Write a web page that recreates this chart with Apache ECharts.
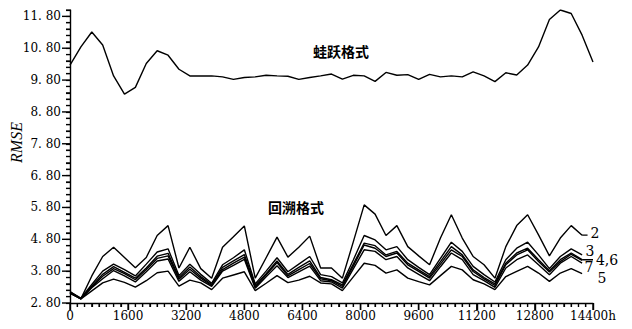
<!DOCTYPE html>
<html>
<head>
<meta charset="utf-8">
<script src="https://cdn.jsdelivr.net/npm/echarts@6/dist/echarts.min.js"></script>
<style>
  html, body { margin: 0; padding: 0; background: #fff; }
  #chart { width: 632px; height: 329px; }
</style>
</head>
<body>
<div id="chart"></div>
<script>
// sampling every 300 h from 0 to 14400 h
var hours = [];
for (var k = 0; k <= 48; k++) hours.push(k * 300);

// 蛙跃格式
var leapfrog = [10.27, 10.84, 11.31, 10.90, 9.93, 9.36, 9.57, 10.32, 10.72, 10.58, 10.14, 9.93,
  9.93, 9.93, 9.90, 9.82, 9.88, 9.90, 9.95, 9.93, 9.92, 9.82, 9.88, 9.93, 9.99, 9.83, 9.95, 9.93,
  9.76, 10.04, 9.95, 9.97, 9.82, 9.98, 9.90, 9.93, 9.90, 10.06, 9.93, 9.75, 10.03, 9.96, 10.27,
  10.84, 11.70, 12.0, 11.89, 11.21, 10.37];

// 回溯格式, curves 2..7
var back2 = [3.16, 2.93, 3.65, 4.26, 4.55, 4.23, 3.91, 4.23, 4.92, 5.23, 3.90, 4.55, 3.88, 3.58,
  4.55, 4.88, 5.22, 3.58, 4.22, 4.87, 4.24, 4.55, 4.90, 3.90, 3.90, 3.58, 4.72, 5.88, 5.59, 4.92,
  5.23, 4.57, 4.28, 4.00, 4.84, 5.57, 4.84, 4.26, 4.00, 3.58, 4.57, 5.23, 5.57, 4.94, 4.28, 4.84,
  5.23, 4.93];
var back3 = [3.15, 2.95, 3.38, 3.80, 4.02, 3.85, 3.65, 4.02, 4.40, 4.50, 3.66, 4.02, 3.70, 3.42,
  4.00, 4.22, 4.47, 3.40, 3.80, 4.22, 3.78, 4.02, 4.26, 3.69, 3.63, 3.43, 4.15, 4.92, 4.78, 4.47,
  4.57, 4.16, 3.92, 3.69, 4.20, 4.71, 4.42, 3.95, 3.69, 3.46, 4.16, 4.52, 4.71, 4.31, 3.88, 4.26,
  4.50, 4.31];
var back4 = [3.13, 2.94, 3.33, 3.70, 3.94, 3.76, 3.58, 3.90, 4.27, 4.36, 3.60, 3.93, 3.63, 3.38,
  3.92, 4.12, 4.32, 3.35, 3.72, 4.12, 3.70, 3.92, 4.12, 3.60, 3.53, 3.37, 4.02, 4.68, 4.60, 4.31,
  4.42, 4.05, 3.84, 3.63, 4.10, 4.57, 4.31, 3.84, 3.60, 3.40, 4.05, 4.37, 4.52, 4.16, 3.81, 4.16,
  4.37, 4.16];
var back6 = [3.12, 2.94, 3.30, 3.64, 3.88, 3.72, 3.53, 3.85, 4.20, 4.28, 3.55, 3.86, 3.58, 3.35,
  3.85, 4.05, 4.24, 3.30, 3.68, 4.07, 3.65, 3.85, 4.04, 3.56, 3.50, 3.32, 3.96, 4.62, 4.52, 4.26,
  4.37, 4.00, 3.79, 3.58, 4.02, 4.47, 4.26, 3.79, 3.56, 3.35, 4.00, 4.31, 4.47, 4.10, 3.77, 4.10,
  4.33, 4.14];
var back7 = [3.12, 2.93, 3.28, 3.56, 3.82, 3.65, 3.46, 3.78, 4.12, 4.18, 3.48, 3.78, 3.52, 3.32,
  3.80, 3.98, 4.17, 3.26, 3.62, 3.97, 3.60, 3.78, 3.96, 3.50, 3.46, 3.27, 3.87, 4.47, 4.42, 4.16,
  4.26, 3.90, 3.70, 3.50, 3.94, 4.37, 4.16, 3.69, 3.50, 3.29, 3.90, 4.16, 4.31, 4.00, 3.69, 4.05,
  4.26, 4.05];
var back5 = [3.10, 2.93, 3.18, 3.43, 3.55, 3.45, 3.30, 3.50, 3.75, 3.80, 3.33, 3.52, 3.43, 3.22,
  3.58, 3.68, 3.78, 3.19, 3.42, 3.66, 3.44, 3.52, 3.64, 3.43, 3.40, 3.19, 3.62, 4.05, 3.98, 3.74,
  3.84, 3.58, 3.47, 3.37, 3.66, 3.95, 3.84, 3.53, 3.40, 3.22, 3.63, 3.79, 3.95, 3.74, 3.48, 3.74,
  3.88, 3.72];

// leader strokes: end hour of each short dash after the curve ends
var leaderEnd2 = 14250;
var leaderEnd4 = 14400;

// axis tick positions: y every 0.2 (major every 1.0 from 2.8), x every 200 h (major every 1600 h)
var yMajorTicks = [], yMinorTicks = [], xMajorTicks = [], xMinorTicks = [];
for (var t = 0; t <= 46; t++) {
  var yv = Math.round((2.8 + t * 0.2) * 10) / 10;
  if (t % 5 === 0 && t < 46) yMajorTicks.push([0, yv]); else yMinorTicks.push([0, yv]);
}
for (var s = 0; s <= 72; s++) {
  if (s % 8 === 0) xMajorTicks.push([s * 200, 2.8]); else xMinorTicks.push([s * 200, 2.8]);
}

var serif = 'DejaVu Serif';
var ink = '#000';

function pairs(arr) {
  return arr.map(function (v, i) { return [hours[i], v]; });
}

function lineSeries(name, data) {
  return {
    name: name,
    type: 'line',
    data: data,
    showSymbol: false,
    lineStyle: { color: ink, width: 1.4 }
  };
}

function tickSeries(data, size, offset) {
  return {
    type: 'scatter',
    data: data,
    symbol: 'rect',
    symbolSize: size,
    symbolOffset: offset,
    clip: false,
    zlevel: 1,
    z: 10,
    itemStyle: { color: ink, opacity: 1 }
  };
}

function note(text, x, y) {
  return {
    type: 'text', x: x, y: y,
    style: { text: text, fontFamily: serif, fontSize: 14, fill: ink, align: 'center', verticalAlign: 'middle' }
  };
}

var last = back2.length - 1;

var chart = echarts.init(document.getElementById('chart'), null, { renderer: 'svg' });
chart.setOption({
  animation: false,
  grid: { left: 70, right: 39, top: 10, bottom: 26 },
  xAxis: {
    type: 'value',
    min: 0,
    max: 14400,
    interval: 1600,
    axisLine: { show: true, lineStyle: { color: ink, width: 1.4 } },
    axisTick: { show: true, length: 7, lineStyle: { color: ink, width: 1.4 } },
    minorTick: { show: true, splitNumber: 8, length: 4, lineStyle: { color: ink, width: 1.2 } },
    splitLine: { show: false },
    minorSplitLine: { show: false },
    axisLabel: {
      margin: 7,
      color: ink,
      fontFamily: serif,
      fontSize: 12,
      formatter: function (v) {
        return v === 14400 ? '14400h' : String(v);
      }
    }
  },
  yAxis: {
    type: 'value',
    min: 2.8,
    max: 12,
    interval: 0.2,
    axisLine: { show: true, lineStyle: { color: ink, width: 1.4 } },
    axisTick: { show: true, length: 4, lineStyle: { color: ink, width: 1.2 } },
    splitLine: { show: false },
    axisLabel: {
      margin: 9,
      color: ink,
      fontFamily: serif,
      fontSize: 12,
      formatter: function (v) {
        var d = v - 2.8;
        if (Math.abs(d - Math.round(d)) > 1e-6 || v > 11.9) return '';
        return v.toFixed(2).replace('.', '. ');
      }
    }
  },
  series: [
    lineSeries('蛙跃格式', pairs(leapfrog)),
    lineSeries('2', pairs(back2)),
    lineSeries('3', pairs(back3)),
    lineSeries('4', pairs(back4)),
    lineSeries('6', pairs(back6)),
    lineSeries('7', pairs(back7)),
    lineSeries('5', pairs(back5)),
    lineSeries('2 leader', [[hours[last], back2[last]], [leaderEnd2, back2[last]]]),
    lineSeries('4,6 leader', [[hours[last], back4[last]], [leaderEnd4, back4[last]]]),
    tickSeries(yMajorTicks, [8, 1.4], [-4, 0]),
    tickSeries(yMinorTicks, [4, 1.2], [-2, 0]),
    tickSeries(xMajorTicks, [1.4, 7], [0, 3.5]),
    tickSeries(xMinorTicks, [1.2, 4], [0, 2])
  ],
  graphic: [
    { type: 'text', x: 16.5, y: 142.5, rotation: Math.PI / 2,
      style: { text: 'RMSE', fontFamily: 'Liberation Serif', fontStyle: 'italic',
        fontSize: 16, fill: ink, align: 'center', verticalAlign: 'middle' } },
    { type: 'text', x: 341, y: 51,
      style: { text: '蛙跃格式', fontFamily: 'Noto Sans CJK SC', fontWeight: 'bold', fontSize: 14,
        fill: ink, align: 'center', verticalAlign: 'middle' } },
    { type: 'text', x: 296, y: 207,
      style: { text: '回溯格式', fontFamily: 'Noto Sans CJK SC', fontWeight: 'bold', fontSize: 14,
        fill: ink, align: 'center', verticalAlign: 'middle' } },
    note('2', 595, 233),
    note('3', 590, 251),
    note('4,6', 607, 260),
    note('7', 589, 267),
    note('5', 602, 278)
  ]
});
</script>
</body>
</html>
